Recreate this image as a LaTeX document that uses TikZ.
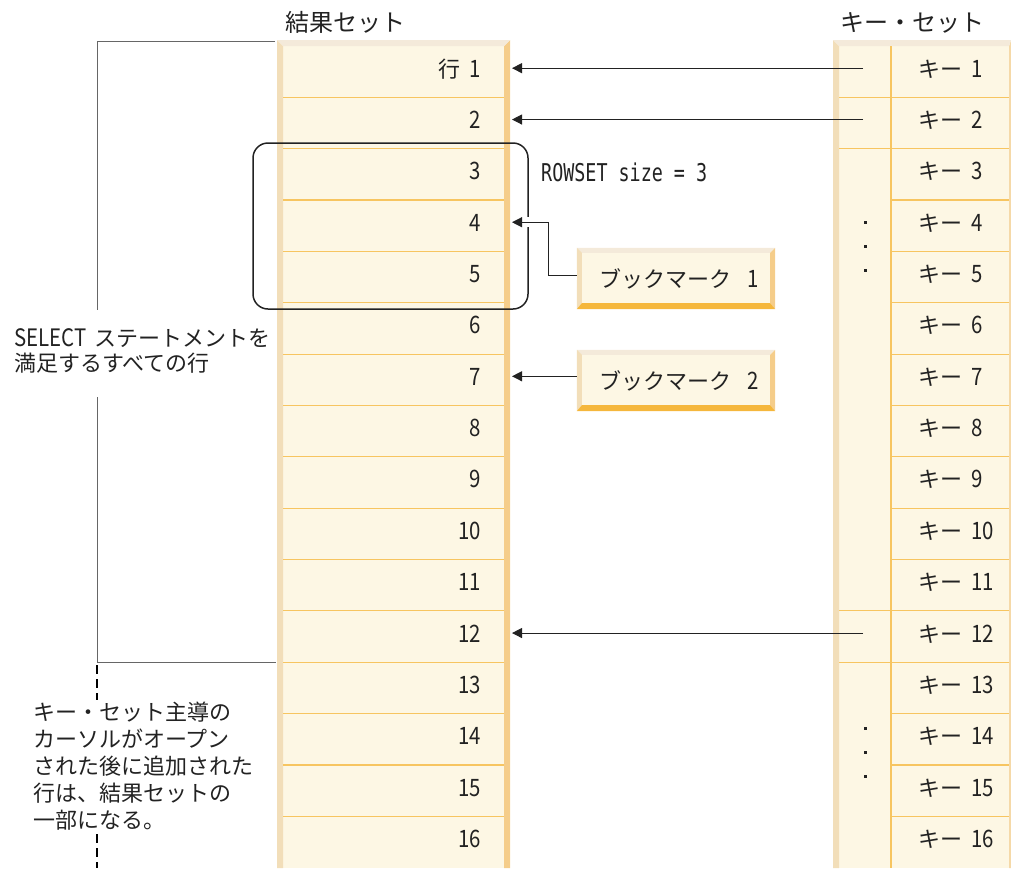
\documentclass[tikz,border=0pt]{standalone}
\usepackage{fontspec}
\setmainfont{Noto Sans CJK JP}
\newfontfamily\numf[FakeStretch=0.85]{Noto Sans CJK JP}
\newfontfamily\monof[FakeStretch=0.75]{DejaVu Sans Mono}
\usetikzlibrary{arrows.meta}
\definecolor{cream}{HTML}{FDF7E4}
\definecolor{rowline}{HTML}{F7C560}
\definecolor{bevL}{HTML}{F2DEB9}
\definecolor{bevT}{HTML}{F4EADA}
\definecolor{bevR}{HTML}{F5CD8A}
\definecolor{bevRk}{HTML}{F5D9A8}
\definecolor{bevB}{HTML}{F5B73C}
\definecolor{brk}{HTML}{666666}
\definecolor{ink}{HTML}{222222}
\newcommand{\nb}[1]{{\numf\fontsize{24}{28}\selectfont #1}}
\newcommand{\wsp}{\hspace{9pt}}
\newcommand{\bsp}{\hspace{16pt}}
\begin{document}
\begin{tikzpicture}[x=1pt,y=-1pt,
  every node/.style={font=\fontsize{22}{26}\selectfont, text=ink},
  hdr/.style={font=\fontsize{24}{28}\selectfont, anchor=west, inner sep=0},
  numtxt/.style={anchor=base east, inner sep=0},
  keytxt/.style={anchor=base west, inner sep=0},
  rowrule/.style={draw=rowline, line width=1.2pt},
  arr/.style={draw=ink, line width=1pt, -{Triangle[length=10pt,width=10pt]}},
  bm/.style={fill=cream, minimum width=198pt, minimum height=61pt, inner sep=0pt},
  rsbox/.style={draw=ink, line width=1.5pt, rounded corners=15pt, minimum width=275pt, minimum height=166pt, inner sep=0pt},
  brkline/.style={draw=brk, line width=1pt},
  dashline/.style={draw=black, line width=1.6pt, dash pattern=on 9pt off 5pt},
  plain/.style={anchor=west, inner sep=0pt, align=left}
]
\useasboundingbox (0,0) rectangle (1011,868);

% ---------- result set column ----------
\fill[cream] (283,46) rectangle (504,868);
\fill[bevL] (277,40) -- (283,46) -- (283,868) -- (277,868) -- cycle;
\fill[bevR] (510,40) -- (504,46) -- (504,868) -- (510,868) -- cycle;
\fill[bevT] (277,40) -- (510,40) -- (504,46) -- (283,46) -- cycle;
\foreach \i in {1,...,15}
  \draw[rowrule] (283,{46+51.35*\i}) -- (504,{46+51.35*\i});
\node[numtxt] (r1) at (481,{46+51.35*0.5+5.5}) {行\wsp\nb{1}};
\foreach \i in {2,...,16}
  \node[numtxt] (r\i) at (481,{46+51.35*(\i-0.5)+5.5}) {\nb{\i}};

% ---------- key set column ----------
\fill[cream] (839,46) rectangle (1009,868);
\fill[bevL] (833,40) -- (839,46) -- (839,868) -- (833,868) -- cycle;
\fill[bevRk] (1011,40) -- (1009,46) -- (1009,868) -- (1011,868) -- cycle;
\fill[bevT] (833,40) -- (1011,40) -- (1009,46) -- (839,46) -- cycle;
\draw[rowline, line width=1.5pt] (891,46) -- (891,868);
\foreach \i in {1,...,15}
  \draw[rowrule] (891,{46+51.35*\i}) -- (1009,{46+51.35*\i});
\foreach \i in {1,2,11,12}
  \draw[rowrule] (839,{46+51.35*\i}) -- (891,{46+51.35*\i});
\foreach \i in {1,...,16}
  \node[keytxt] (k\i) at (918,{46+51.35*(\i-0.5)+5.5}) {キー\wsp\nb{\i}};
\foreach \y in {222.7,246.7,270.7,728,752,776}
  \fill[ink] (863.5,\y-1.5) rectangle ++(3,3);

% ---------- headers ----------
\node[hdr] (h1) at (285,22) {結果セット};
\node[hdr] (h2) at (840,23) {キー・セット};

% ---------- arrows from key set ----------
\foreach \i in {1,2,12}{
  \coordinate (ks\i) at (863,{46+51.35*(\i-0.5)-3.5});
  \coordinate (rt\i) at (512,{46+51.35*(\i-0.5)-3.5});
  \draw[arr] (ks\i) -- (rt\i);
}

% ---------- rowset box ----------
\node[rsbox] (rs) at (390.5,226) {};
\node[plain, font=\monof\fontsize{24.5}{28}\selectfont] (rsl) at (541,172) {ROWSET size = 3};

% ---------- bookmarks ----------
\node[bm] (b1) at (676,278.5) {\hspace{6pt}ブックマーク\bsp\nb{1}};
\node[bm] (b2) at (676,380.5) {\hspace{6pt}ブックマーク\bsp\nb{2}};
\foreach \b in {b1,b2}{
  \fill[bevT] (\b.north west) -- (\b.north east) -- ++(-5,5) -- ([shift={(5,5)}]\b.north west) -- cycle;
  \fill[bevL] (\b.north west) -- ++(5,5) -- ([shift={(5,-6)}]\b.south west) -- (\b.south west) -- cycle;
  \fill[bevR] (\b.north east) -- (\b.south east) -- ++(-5,-6) -- ([shift={(-5,5)}]\b.north east) -- cycle;
  \fill[bevB] (\b.south west) -- (\b.south east) -- ++(-5,-6) -- ([shift={(5,-6)}]\b.south west) -- cycle;
}
\coordinate (rt4) at (512,{46+51.35*3.5-3.5});
\coordinate (rt7) at (512,{46+51.35*6.5-3.5});
\draw[arr, preaction={draw=white, line width=10pt, -}] ([yshift=3.5pt]b1.west) -- ++(-28,0) |- (rt4);
\draw[arr] (b2.west |- rt7) -- (rt7);

% ---------- left bracket ----------
\draw[brkline] (275,41) -- (97,41) -- (97,310);
\draw[brkline] (97,397) -- (97,662.5) -- (276,662.5);
\draw[dashline] (97,665) -- (97,700);
\draw[dashline] (97,834) -- (97,868);

\node[plain, font=\fontsize{22}{25.5}\selectfont] (sel) at (14,351) {\nb{SELECT}\hspace{8pt}ステートメントを\\満足するすべての行};
\node[plain, font=\fontsize{22}{27}\selectfont] (note) at (33,766) {キー・セット主導の\\カーソルがオープン\\された後に追加された\\行は、結果セットの\\一部になる。};
\end{tikzpicture}
\end{document}
